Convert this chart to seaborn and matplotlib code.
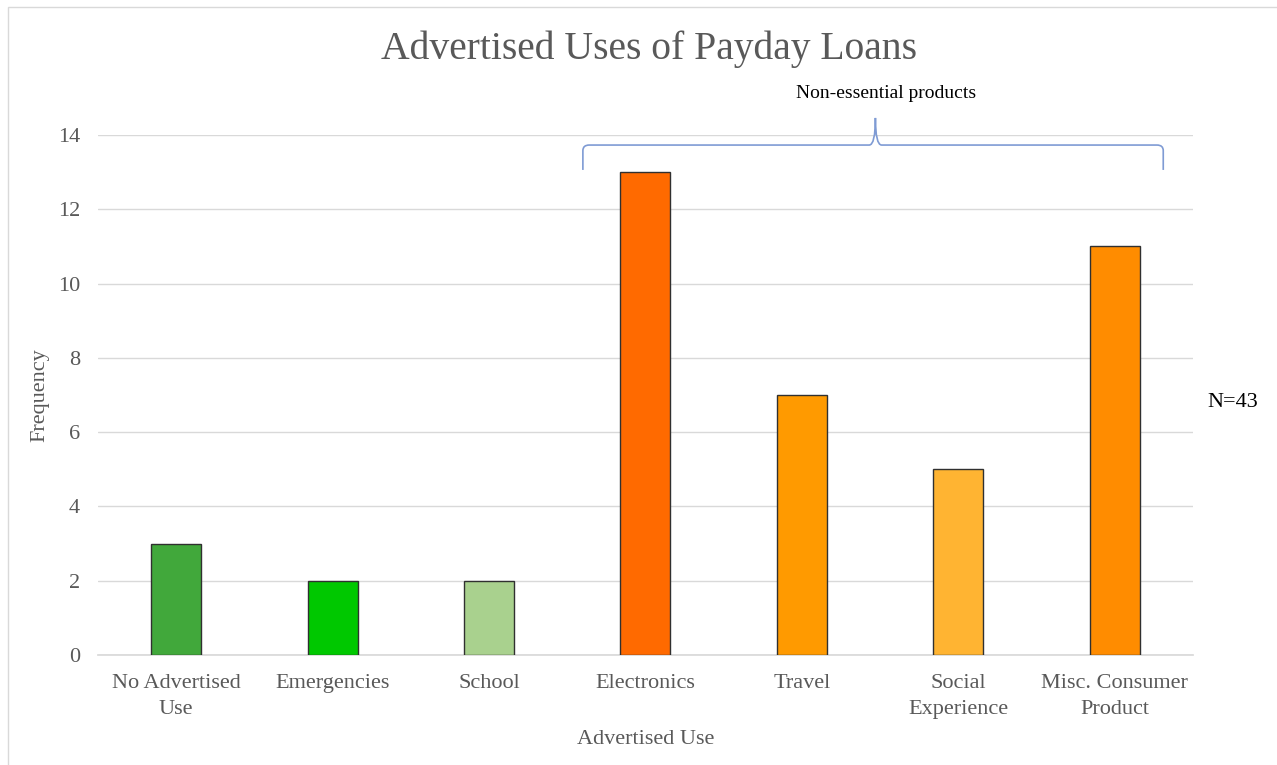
import matplotlib
matplotlib.use("Agg")
import matplotlib.pyplot as plt
import seaborn as sns
import pandas as pd
from matplotlib.path import Path
from matplotlib.patches import PathPatch, Rectangle

categories = ["No Advertised\nUse", "Emergencies", "School", "Electronics",
              "Travel", "Social\nExperience", "Misc. Consumer\nProduct"]
frequency = [3, 2, 2, 13, 7, 5, 11]
bar_colors = ["#41A83B", "#00C800", "#A9D18E", "#FF6A00", "#FF9A00", "#FFB432", "#FF8C00"]
y_ticks = [0, 2, 4, 6, 8, 10, 12, 14]

sns.set_theme(style="white")
plt.rcParams["font.family"] = ["Liberation Serif", "DejaVu Serif"]

df = pd.DataFrame({"use": categories, "freq": frequency})

fig = plt.figure(figsize=(12.77, 7.65), dpi=100)
ax = fig.add_axes([0.0767, 0.1438, 0.8575, 0.6797])

sns.barplot(data=df, x="use", y="freq", hue="use", palette=dict(zip(categories, bar_colors)),
            legend=False, width=0.32, saturation=1, edgecolor="#303030", linewidth=1.0,
            ax=ax, zorder=3)

ax.set_ylim(0, 14)
ax.set_xlim(-0.5, len(categories) - 0.5)
ax.set_yticks(y_ticks)
ax.yaxis.grid(True, color="#D9D9D9", linewidth=1.0, zorder=0)
ax.set_axisbelow(True)
for s in ["top", "right", "left"]:
    ax.spines[s].set_visible(False)
ax.spines["bottom"].set_color("#D9D9D9")
ax.tick_params(axis="both", length=0, labelsize=16, colors="#595959")
ax.tick_params(axis="x", pad=14)
ax.tick_params(axis="y", pad=13)
for lab in ax.get_xticklabels():
    lab.set_linespacing(1.45)
ax.set_xlabel("Advertised Use", fontsize=16, color="#595959", labelpad=8)
ax.set_ylabel("Frequency", fontsize=16, color="#595959", labelpad=6)

fig.text(0.508, 0.936, "Advertised Uses of Payday Loans", ha="center", va="center",
         fontsize=28.5, color="#595959")

# brace over non-essential products
x0, x1, xm = 2.60, 6.31, 4.47
yb, yh, yt = 13.06, 13.73, 14.46
c = 0.04
verts = [(x0, yb), (x0, yh - 0.15), (x0, yh), (x0 + c, yh),
         (xm - c, yh), (xm, yh), (xm, yt),
         (xm, yh), (xm + c, yh),
         (x1 - c, yh), (x1, yh), (x1, yh - 0.15), (x1, yb)]
codes = [Path.MOVETO, Path.LINETO, Path.CURVE3, Path.CURVE3,
         Path.LINETO, Path.CURVE3, Path.CURVE3,
         Path.CURVE3, Path.CURVE3,
         Path.LINETO, Path.CURVE3, Path.CURVE3, Path.LINETO]
ax.add_patch(PathPatch(Path(verts, codes), facecolor="none", edgecolor="#7F9BD4",
                       linewidth=1.2, clip_on=False, zorder=5))
ax.text(4.54, 15.13, "Non-essential products", ha="center", va="center",
        fontsize=14, color="black", clip_on=False)

fig.text(0.9655, 0.474, "N=43", ha="center", va="center", fontsize=16, color="black")

fig.patches.append(Rectangle((0.0063, -0.01), 1.1, 1.0 - 0.0092 + 0.01, transform=fig.transFigure,
                             fill=False, edgecolor="#D9D9D9", linewidth=1.0))

fig.savefig("out.png", dpi=100)
